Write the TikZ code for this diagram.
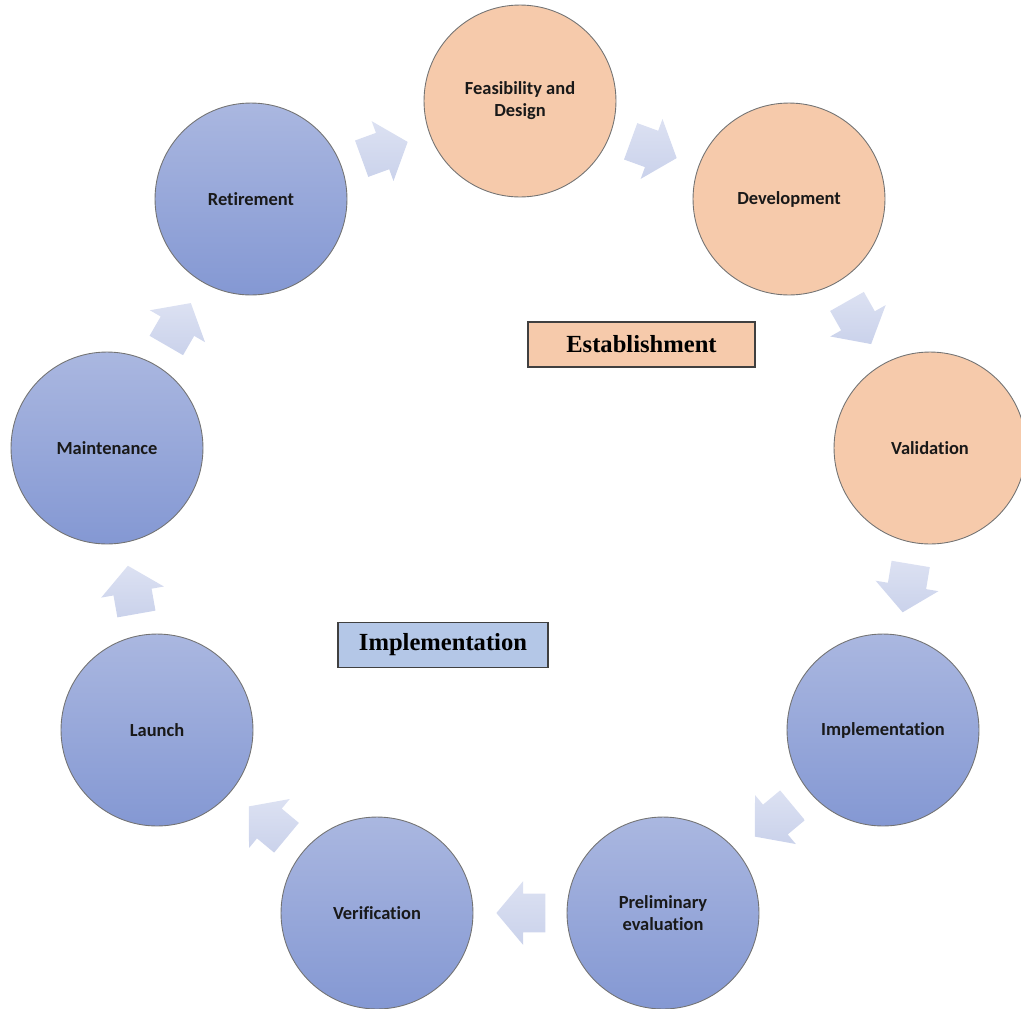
\documentclass[tikz,border=0pt]{standalone}
\usepackage{fontspec}
\setmainfont{Liberation Serif}
\newfontfamily\phasefont[Ligatures=NoCommon]{Carlito}
\usetikzlibrary{shapes.arrows,calc}

\definecolor{peach}{HTML}{F6CAAB}
\definecolor{bluetop}{HTML}{AAB7E0}
\definecolor{bluebot}{HTML}{8498D3}
\definecolor{arrowlight}{HTML}{DCE1F2}
\definecolor{arrowdark}{HTML}{CAD2EB}
\definecolor{tagblue}{HTML}{B4C7E7}

% block arrow half way between two phases
\newcommand{\phasearrow}[3]{%
  \path let \p1=($(#2)-(#1)$), \n1={atan2(\y1,\x1)} in
    node[blockarrow, rotate=\n1] (#3) at ($(#1)!0.5!(#2)!0.18cm!(#1)$) {};}

\begin{document}
\begin{tikzpicture}[x=0.02cm, y=-0.02cm,
  phase/.style={circle, minimum size=3.84cm, inner sep=0pt, draw=black!55, line width=0.5pt,
    font=\phasefont\bfseries\fontsize{10.5}{12.5}\selectfont, align=center, text=black!90},
  estphase/.style={phase, fill=peach},
  impphase/.style={phase, top color=bluetop, bottom color=bluebot},
  tag/.style={draw=black!75, line width=0.8pt, inner sep=0pt,
    font=\bfseries\fontsize{14}{16}\selectfont, minimum height=0.9cm},
  blockarrow/.style={single arrow, single arrow head extend=0.25cm, single arrow tip angle=100,
    minimum height=0.98cm, inner xsep=0pt, inner ysep=0.38cm,
    top color=arrowlight, bottom color=arrowdark, draw=none}]
\useasboundingbox (0,0) rectangle (1021,1008);

\node[estphase] (feas) at (520,101){Feasibility and\\Design};
\node[estphase] (dev) at (789,199){Development};
\node[estphase] (valid) at (930,448){Validation};
\node[impphase] (impl) at (883,730){Implementation};
\node[impphase] (prelim) at (663,913){Preliminary\\evaluation};
\node[impphase] (verif) at (377,913){Verification};
\node[impphase] (launch) at (157,730){Launch};
\node[impphase] (maint) at (107,448){Maintenance};
\node[impphase] (retire) at (251,199){Retirement};

\phasearrow{retire}{feas}{a1}
\phasearrow{feas}{dev}{a2}
\phasearrow{dev}{valid}{a3}
\phasearrow{valid}{impl}{a4}
\phasearrow{impl}{prelim}{a5}
\phasearrow{prelim}{verif}{a6}
\phasearrow{verif}{launch}{a7}
\phasearrow{launch}{maint}{a8}
\phasearrow{maint}{retire}{a9}

\node[tag, fill=peach, minimum width=4.54cm] (estab) at (641.5,344.5){Establishment};
\node[tag, fill=tagblue, minimum width=4.2cm] (impltag) at (443,645){Implementation};

\end{tikzpicture}
\end{document}
